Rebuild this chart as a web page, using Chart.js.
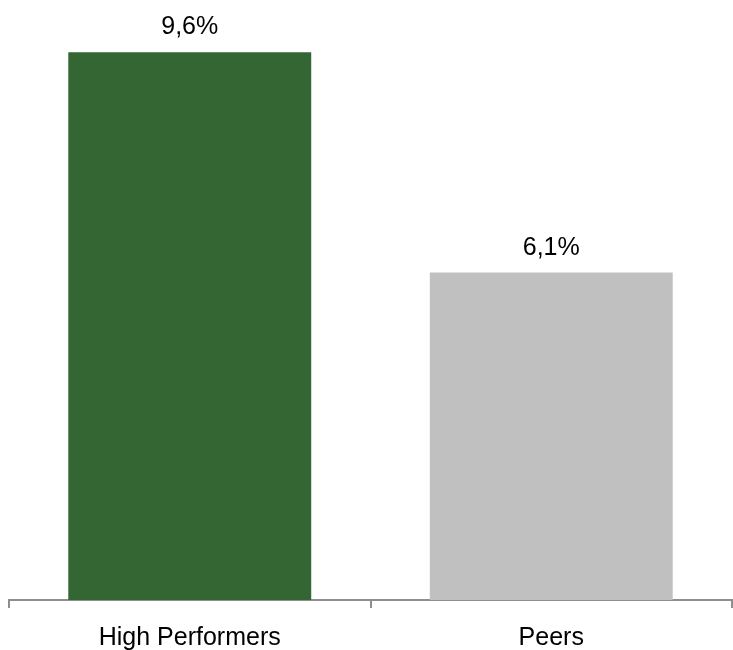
<!DOCTYPE html>
<html>
<head>
<meta charset="utf-8">
<script src="https://cdn.jsdelivr.net/npm/chart.js@4"></script>
<style>
  html, body { margin: 0; padding: 0; background: #fff; }
  #wrap { width: 733px; height: 650px; }
</style>
</head>
<body>
<div id="wrap"><canvas id="barChart"></canvas></div>
<script>
const categories = ['High Performers', 'Peers'];
const values = [9.6, 6.1];
const barColors = ['#336633', '#c0c0c0'];

// value labels above each bar, comma decimals like the source
const valueLabels = {
  id: 'valueLabels',
  afterDatasetsDraw(chart) {
    const ctx = chart.ctx;
    const meta = chart.getDatasetMeta(0);
    ctx.save();
    ctx.font = '25px "Liberation Sans", Arial, sans-serif';
    ctx.fillStyle = '#000';
    ctx.textAlign = 'center';
    ctx.textBaseline = 'alphabetic';
    meta.data.forEach((bar, i) => {
      const txt = values[i].toFixed(1).replace('.', ',') + '%';
      ctx.fillText(txt, bar.x, bar.y - 18);
    });
    ctx.restore();
  }
};

new Chart(document.getElementById('barChart'), {
  type: 'bar',
  data: {
    labels: categories,
    datasets: [{
      data: values,
      backgroundColor: barColors,
      categoryPercentage: 1,
      barPercentage: 0.672
    }]
  },
  options: {
    responsive: true,
    maintainAspectRatio: false,
    animation: false,
    layout: { padding: { left: 9, right: 1, top: 0, bottom: 0 } },
    plugins: {
      legend: { display: false },
      tooltip: { enabled: false }
    },
    scales: {
      x: {
        afterFit: (scale) => { scale.height = 50; },
        grid: {
          offset: true,
          drawOnChartArea: false,
          drawTicks: true,
          tickLength: 8,
          color: '#8e8e8e',
          lineWidth: 2
        },
        border: { display: true, color: '#8e8e8e', width: 2 },
        ticks: {
          color: '#000',
          padding: 15,
          font: { family: '"Liberation Sans", Arial, sans-serif', size: 25 }
        }
      },
      y: {
        display: false,
        min: 0.9,
        max: 10.43
      }
    }
  },
  plugins: [valueLabels]
});
</script>
</body>
</html>
